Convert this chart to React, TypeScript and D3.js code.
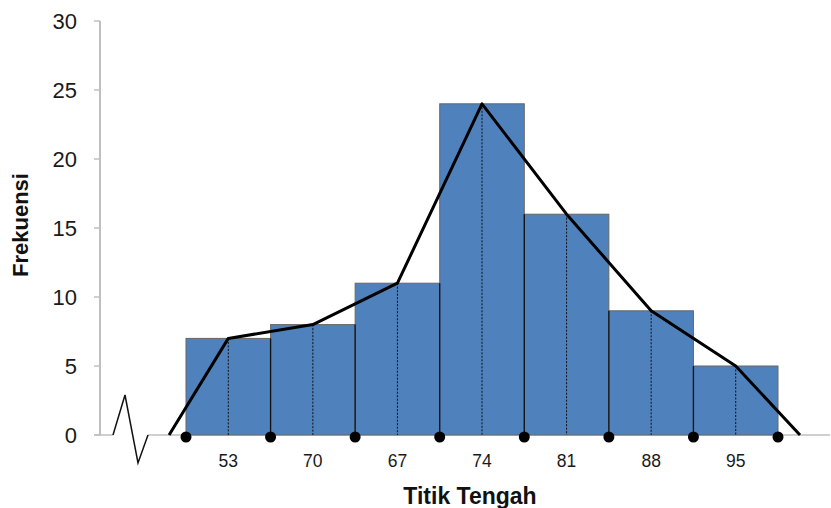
import React from "react";
import * as d3 from "d3";

// Class midpoints (as labelled) and frequencies
const midpoints = ["53", "70", "67", "74", "81", "88", "95"];
const frequencies = [7, 8, 11, 24, 16, 9, 5];
const yTicks = [0, 5, 10, 15, 20, 25, 30];
// Where the frequency polygon meets the axis, in class-index units
const polygonStart = -0.2;
const polygonEnd = 7.26;

const W = 831;
const H = 508;
const BAR = "#4f81bd";
const AXIS = "#bfbfbf";

export default function App() {
  const x = d3.scaleLinear().domain([0, frequencies.length]).range([186, 778]);
  const y = d3.scaleLinear().domain([0, 30]).range([435, 21]);
  const y0 = y(0);

  const polyPts: [number, number][] = [
    [x(polygonStart), y0],
    ...frequencies.map((f, i) => [x(i + 0.5), y(f)] as [number, number]),
    [x(polygonEnd), y0],
  ];
  const line = d3.line();

  // axis break zigzag near the origin
  const zig: [number, number][] = [
    [113, y0],
    [125, y0 - 40],
    [138, y0 + 28],
    [148, y0],
  ];

  return (
    <svg
      width={W}
      height={H}
      style={{ position: "absolute", left: 0, top: 0, display: "block" }}
      fontFamily="'Liberation Sans', Arial, sans-serif"
    >
      <rect width={W} height={H} fill="#fff" />

      {/* y axis */}
      <line x1={100} x2={100} y1={y(30)} y2={y0} stroke={AXIS} strokeWidth={2} />
      {yTicks.map((t) => (
        <g key={t}>
          <line x1={94} x2={100} y1={y(t)} y2={y(t)} stroke={AXIS} strokeWidth={1.5} />
          <text
            x={77}
            y={y(t) + 8}
            textAnchor="end"
            fontSize={22}
            fill="#1a1a1a"
          >
            {t}
          </text>
        </g>
      ))}

      {/* x axis with break */}
      <line x1={94} x2={113} y1={y0} y2={y0} stroke={AXIS} strokeWidth={1.5} />
      <line x1={148} x2={830} y1={y0} y2={y0} stroke={AXIS} strokeWidth={1.5} />
      <path d={line(zig) ?? ""} fill="none" stroke="#111" strokeWidth={1.5} />

      {/* histogram bars */}
      {frequencies.map((f, i) => (
        <rect
          key={i}
          x={x(i)}
          y={y(f)}
          width={x(i + 1) - x(i)}
          height={y0 - y(f)}
          fill={BAR}
          stroke="#666"
          strokeWidth={1}
        />
      ))}
      {/* solid class boundaries between bars */}
      {frequencies.slice(1).map((f, i) => (
        <line
          key={i}
          x1={x(i + 1)}
          x2={x(i + 1)}
          y1={y(Math.min(f, frequencies[i]))}
          y2={y0}
          stroke="#111"
          strokeWidth={1.3}
        />
      ))}
      {/* dotted midlines */}
      {frequencies.map((f, i) => (
        <line
          key={i}
          x1={x(i + 0.5)}
          x2={x(i + 0.5)}
          y1={y(f)}
          y2={y0}
          stroke="#111"
          strokeWidth={1}
          strokeDasharray="2,1.5"
        />
      ))}

      {/* frequency polygon */}
      <path d={line(polyPts) ?? ""} fill="none" stroke="#000" strokeWidth={3} strokeLinejoin="round" />

      {/* boundary dots */}
      {d3.range(frequencies.length + 1).map((i) => (
        <circle key={i} cx={x(i)} cy={y0 + 2} r={5.5} fill="#000" />
      ))}

      {/* class labels */}
      {midpoints.map((m, i) => (
        <text key={m + i} x={x(i + 0.5)} y={467} textAnchor="middle" fontSize={17.5} fill="#1a1a1a">
          {m}
        </text>
      ))}

      <text x={470} y={504} textAnchor="middle" fontSize={23} fontWeight="bold" fill="#111">
        Titik Tengah
      </text>
      <text
        transform={`translate(28, 225) rotate(-90)`}
        textAnchor="middle"
        fontSize={22}
        fontWeight="bold"
        fill="#111"
      >
        Frekuensi
      </text>
    </svg>
  );
}
